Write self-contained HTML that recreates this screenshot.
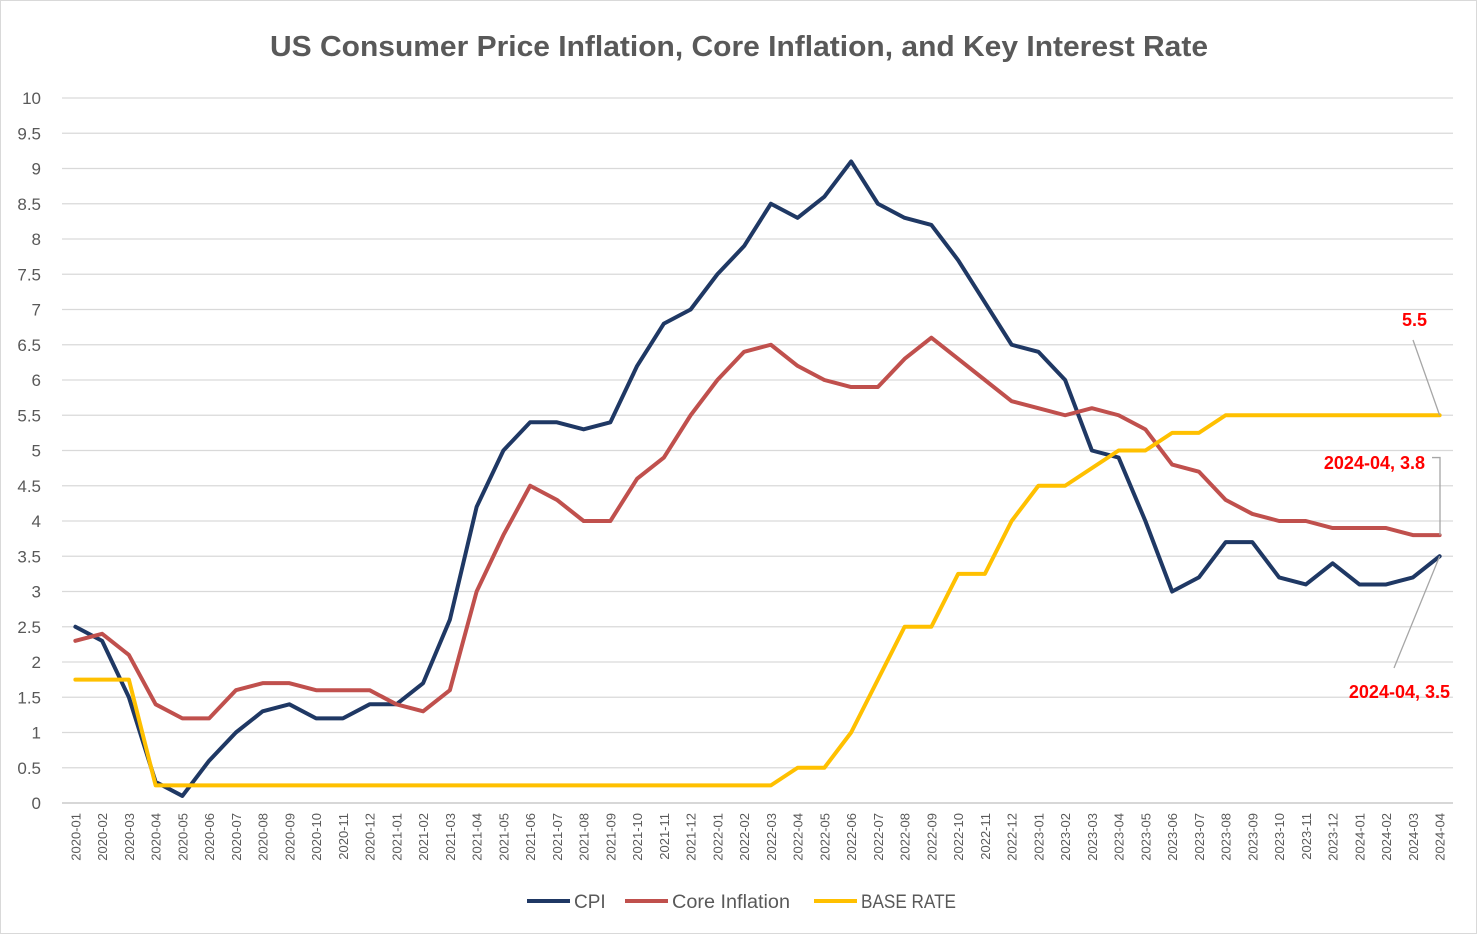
<!DOCTYPE html>
<html><head><meta charset="utf-8"><style>
html,body{margin:0;padding:0;background:#fff;}
svg{display:block;font-family:"Liberation Sans",Calibri,sans-serif;}
</style></head><body>
<svg id="chart" width="1478" height="935">
<rect x="0.5" y="0.5" width="1476" height="933" fill="#fff" stroke="#d9d9d9"/>
<text x="739" y="56" text-anchor="middle" font-size="29" font-weight="bold" fill="#595959" textLength="938" lengthAdjust="spacingAndGlyphs">US Consumer Price Inflation, Core Inflation, and Key Interest Rate</text>
<g id="grid"></g><g id="yt"></g><g id="xt"></g><g id="series"></g><g id="ann"></g>
<g>
<line x1="527" y1="901" x2="570" y2="901" stroke="#1f3864" stroke-width="4"/>
<text x="574" y="908" font-size="19" fill="#595959">CPI</text>
<line x1="625" y1="901" x2="668" y2="901" stroke="#c0504d" stroke-width="4"/>
<text x="672" y="908" font-size="19" fill="#595959" textLength="118" lengthAdjust="spacingAndGlyphs">Core Inflation</text>
<line x1="814" y1="901" x2="857" y2="901" stroke="#ffc000" stroke-width="4"/>
<text x="861" y="908" font-size="19" fill="#595959" textLength="95" lengthAdjust="spacingAndGlyphs">BASE RATE</text>
</g>
</svg>
<script>
const years=["2020","2021","2022","2023","2024"];
const categories=[];
years.forEach((y,i)=>{const n=i===4?4:12;for(let m=1;m<=n;m++)categories.push(y+"-"+String(m).padStart(2,"0"));});
const cpi=[2.5,2.3,1.5,0.3,0.1,0.6,1.0,1.3,1.4,1.2,1.2,1.4, 1.4,1.7,2.6,4.2,5.0,5.4,5.4,5.3,5.4,6.2,6.8,7.0, 7.5,7.9,8.5,8.3,8.6,9.1,8.5,8.3,8.2,7.7,7.1,6.5, 6.4,6.0,5.0,4.9,4.0,3.0,3.2,3.7,3.7,3.2,3.1,3.4, 3.1,3.1,3.2,3.5];
const core=[2.3,2.4,2.1,1.4,1.2,1.2,1.6,1.7,1.7,1.6,1.6,1.6, 1.4,1.3,1.6,3.0,3.8,4.5,4.3,4.0,4.0,4.6,4.9,5.5, 6.0,6.4,6.5,6.2,6.0,5.9,5.9,6.3,6.6,6.3,6.0,5.7, 5.6,5.5,5.6,5.5,5.3,4.8,4.7,4.3,4.1,4.0,4.0,3.9, 3.9,3.9,3.8,3.8];
const base=[1.75,1.75,1.75,0.25,0.25,0.25,0.25,0.25,0.25,0.25,0.25,0.25, 0.25,0.25,0.25,0.25,0.25,0.25,0.25,0.25,0.25,0.25,0.25,0.25, 0.25,0.25,0.25,0.5,0.5,1.0,1.75,2.5,2.5,3.25,3.25,4.0, 4.5,4.5,4.75,5.0,5.0,5.25,5.25,5.5,5.5,5.5,5.5,5.5, 5.5,5.5,5.5,5.5];
const yTicks=["0","0.5","1","1.5","2","2.5","3","3.5","4","4.5","5","5.5","6","6.5","7","7.5","8","8.5","9","9.5","10"];
const NS="http://www.w3.org/2000/svg";
const L=62,R=1453,T=98,B=803,YMAX=10;
const step=(R-L)/categories.length;
const xs=i=>L+step*(i+0.5);
const ys=v=>B-(v/YMAX)*(B-T);
function mk(tag,attrs,parent){const e=document.createElementNS(NS,tag);for(const k in attrs)e.setAttribute(k,attrs[k]);parent.appendChild(e);return e;}
const grid=document.getElementById('grid'),yt=document.getElementById('yt'),xt=document.getElementById('xt'),ser=document.getElementById('series'),ann=document.getElementById('ann');
yTicks.forEach(t=>{const v=parseFloat(t);const y=ys(v);
 const g=mk('line',{x1:L,x2:R,y1:y,y2:y,stroke:v===0?'#bfbfbf':'#d9d9d9','stroke-width':1.3},grid);
 
 
 const tx=mk('text',{x:41,y:y+6,'text-anchor':'end','font-size':17,fill:'#595959'},yt);tx.textContent=t;
 
 
});
categories.forEach((c,i)=>{const x=xs(i);
 const tx=mk('text',{x:0,y:0,'text-anchor':'end','font-size':13,fill:'#595959',transform:`translate(${x+5},${B+10}) rotate(-90)`},xt);tx.textContent=c;
 
 
});
function line(data,color,name){const p=mk('polyline',{points:data.map((v,i)=>xs(i)+','+ys(v)).join(' '),fill:'none',stroke:color,'stroke-width':4,'stroke-linejoin':'round','stroke-linecap':'round'},ser);
 
 }
line(cpi,'#1f3864','cpi-line');
line(core,'#c0504d','core-inflation-line');
line(base,'#ffc000','base-rate-line');
const n=categories.length-1,xl=xs(n);
function label(txt,x,y,name){const t=mk('text',{x:x,y:y,'text-anchor':'end','font-size':18,'font-weight':'bold',fill:'#ff0000'},ann);t.textContent=txt;
 
 }
mk('line',{x1:1413,y1:340,x2:xl,y2:ys(base[n]),stroke:'#a6a6a6','stroke-width':1.3},ann);
label(String(base[n]),1427,326,'base-rate-end-label');
mk('polyline',{points:`1432,${ys(4.9)} 1440,${ys(4.9)} 1440,${ys(core[n])}`,fill:'none',stroke:'#a6a6a6','stroke-width':1.3},ann);
label(categories[n]+', '+core[n].toFixed(1),1425,469,'core-end-label');
mk('line',{x1:1394,y1:668,x2:xl,y2:ys(cpi[n]),stroke:'#a6a6a6','stroke-width':1.3},ann);
label(categories[n]+', '+cpi[n].toFixed(1),1450,698,'cpi-end-label');
</script>
</body></html>
